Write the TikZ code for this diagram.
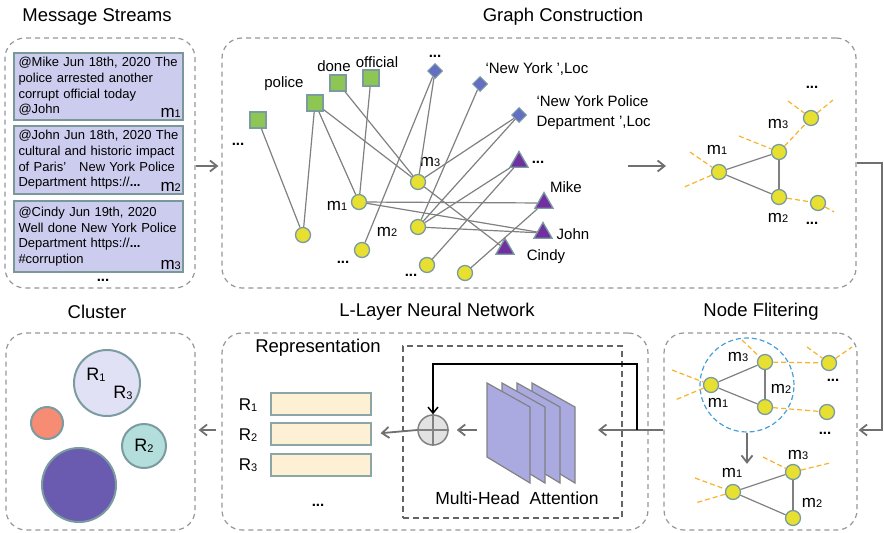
\documentclass[tikz,border=0pt]{standalone}
\usepackage{fontspec}
\setmainfont{Liberation Sans}
\usetikzlibrary{shapes.geometric,arrows.meta}

\definecolor{msgfill}{RGB}{204,204,238}
\definecolor{msgline}{RGB}{122,152,152}
\definecolor{ring}{RGB}{122,155,160}
\definecolor{yel}{RGB}{232,224,48}
\definecolor{wordgreen}{RGB}{141,198,83}
\definecolor{entblue}{RGB}{100,110,195}
\definecolor{userpurple}{RGB}{112,48,160}
\definecolor{edgegray}{RGB}{128,128,128}
\definecolor{cutorange}{RGB}{245,180,40}
\definecolor{framegray}{RGB}{150,150,150}
\definecolor{boxgray}{RGB}{100,100,100}
\definecolor{arrowgray}{RGB}{112,112,112}
\definecolor{selblue}{RGB}{70,160,220}
\definecolor{repfill}{RGB}{253,240,212}
\definecolor{repline}{RGB}{140,165,165}
\definecolor{headfill}{RGB}{170,170,225}
\definecolor{headline}{RGB}{130,130,130}
\definecolor{plusfill}{RGB}{226,226,226}
\definecolor{cluLight}{RGB}{225,225,245}
\definecolor{cluSalmon}{RGB}{245,140,115}
\definecolor{cluTeal}{RGB}{180,222,220}
\definecolor{cluPurple}{RGB}{106,90,176}

\newcommand{\msub}[2]{#1\raisebox{-0.5pt}{\fontsize{11}{11}\selectfont #2}}
\newcommand{\more}{\textbf{...}}

\begin{document}
\begin{tikzpicture}[x=1pt, y=-1pt,
    every node/.style={font=\fontsize{15}{17}\selectfont},
    title/.style={font=\fontsize{18.5}{20}\selectfont},
    mlab/.style={font=\fontsize{17}{17}\selectfont},
    frame/.style={draw=framegray, dash pattern=on 5pt off 4pt, line width=1.2pt, rounded corners=20pt},
    msgbox/.style={rectangle, draw=msgline, fill=msgfill, line width=2pt, text width=160pt, inner xsep=4.5pt,
      inner ysep=3pt, align=left, minimum height=68pt, font=\fontsize{13}{15.6}\selectfont},
    mtag/.style={anchor=base east, font=\fontsize{17}{17}\selectfont, inner sep=0pt},
    msgnode/.style={circle, fill=yel, draw=ring, line width=1.3pt, minimum size=15pt, inner sep=0pt},
    word/.style={rectangle, fill=wordgreen, draw=ring, line width=1.3pt, minimum size=16pt, inner sep=0pt},
    ent/.style={diamond, aspect=1, fill=entblue, draw=ring, line width=1pt, minimum size=15pt, inner sep=0pt},
    user/.style={regular polygon, regular polygon sides=3, fill=userpurple, draw=ring, line width=1.3pt,
      minimum size=21pt, inner sep=0pt},
    link/.style={draw=edgegray, line width=1.2pt},
    cut/.style={draw=cutorange, dash pattern=on 5pt off 3pt, line width=1.2pt},
    flow/.style={draw=arrowgray, line width=1.8pt, -{Straight Barb[length=7pt,width=11pt]}},
    res/.style={draw=black, line width=1.5pt, -{Straight Barb[length=6pt,width=10pt]}},
    repbar/.style={rectangle, fill=repfill, draw=repline, line width=1.2pt, minimum width=100pt,
      minimum height=22pt, inner sep=0pt},
    head/.style={fill=headfill, draw=headline, line width=1.2pt},
    clus/.style={circle, draw=ring, line width=2pt, inner sep=0pt, font=\fontsize{18}{18}\selectfont}]

  \useasboundingbox (0,0) rectangle (884,533);

  % frames and titles
  \node[frame, minimum width=190pt, minimum height=250pt] (frmMsg) at (100,163) {};
  \node[frame, minimum width=634pt, minimum height=250pt] (frmGraph) at (539,163) {};
  \node[frame, minimum width=189pt, minimum height=197pt] (frmClu) at (100.5,431.5) {};
  \node[frame, minimum width=426pt, minimum height=197pt] (frmNet) at (435,431.5) {};
  \node[frame, minimum width=193pt, minimum height=197pt] (frmFil) at (760.5,431.5) {};
  \node[draw=boxgray, dash pattern=on 6pt off 4pt, line width=1.5pt, minimum width=219pt,
    minimum height=172pt] (attbox) at (512.5,432) {};

  \node[title] (tMsg) at (97,17) {Message Streams};
  \node[title] (tGraph) at (563,17) {Graph Construction};
  \node[title] (tClu) at (97,312) {Cluster};
  \node[title] (tNet) at (437,312) {L-Layer Neural Network};
  \node[title] (tFil) at (761,312) {Node Flitering};

  % message streams
  \node[msgbox, minimum height=67pt] (msg1) at (98.5,86.5)
    {@Mike Jun 18th, 2020 The\\police arrested another\\corrupt official today\\@John};
  \node[msgbox] (msg2) at (98.5,160)
    {@John Jun 18th, 2020 The\\cultural and historic impact\\of Paris’\ \ \ New York Police\\Department https://\textbf{...}};
  \node[msgbox, minimum height=71pt] (msg3) at (98.5,236.5)
    {@Cindy Jun 19th, 2020\\Well done New York Police\\Department https://\textbf{...}\\\#corruption};
  \node[mtag] (msg1m) at (181,117) {\msub{m}{1}};
  \node[mtag] (msg2m) at (181,191) {\msub{m}{2}};
  \node[mtag] (msg3m) at (181,269) {\msub{m}{3}};
  \node (msgmore) at (103,280) {\more};

  % heterogeneous graph
  \node[word] (wx) at (258,120) {};
  \node[word] (wpol) at (315,103) {};
  \node[word] (wdone) at (338,83) {};
  \node[word] (woff) at (371,78) {};
  \node[ent] (d1) at (435,71) {};
  \node[ent] (d2) at (480,84) {};
  \node[ent] (d3) at (519,115) {};
  \node[user] (u1) at (519,162) {};
  \node[user] (mike) at (544,203) {};
  \node[user] (john) at (543,233) {};
  \node[user] (cindy) at (505,249) {};
  \node[msgnode] (ca) at (303,235) {};
  \node[msgnode] (m1) at (359,202) {};
  \node[msgnode] (m3) at (418,182) {};
  \node[msgnode] (m2) at (418,227) {};
  \node[msgnode] (cb) at (362,250) {};
  \node[msgnode] (cc) at (427,265) {};
  \node[msgnode] (cd) at (465,273) {};

  \node (lwx) at (238,144) {\more};
  \node (lpol) at (284,84) {police};
  \node (ldone) at (334,66) {done};
  \node (loff) at (377,62) {official};
  \node (ld1) at (435,56) {\more};
  \node[anchor=west] (ld2) at (482,69) {‘New York ’,Loc};
  \node[anchor=west, align=left, font=\fontsize{15}{20}\selectfont] (ld3) at (533,113)
    {‘New York Police\\Department ’,Loc};
  \node (lu1) at (538,162) {\more};
  \node (lmike) at (566,187) {Mike};
  \node (ljohn) at (573,234) {John};
  \node (lcindy) at (546,257) {Cindy};
  \node[mlab] (lm1) at (337,206) {\msub{m}{1}};
  \node[mlab] (lm2) at (387,232) {\msub{m}{2}};
  \node[mlab] (lm3) at (430,162) {\msub{m}{3}};
  \node (lcb) at (343,262) {\more};
  \node (lcc) at (411,275) {\more};

  \draw[link] (wx) -- (ca);
  \draw[link] (wpol) -- (ca);
  \draw[link] (wpol) -- (m1);
  \draw[link] (wpol) -- (m3);
  \draw[link] (wdone) -- (m3);
  \draw[link] (woff) -- (m1);
  \draw[link] (d1) -- (cb);
  \draw[link] (d1) -- (m3);
  \draw[link] (d2) -- (m2);
  \draw[link] (d3) -- (m3);
  \draw[link] (d3) -- (m2);
  \draw[link] (u1) -- (m2);
  \draw[link] (u1) -- (cc);
  \draw[link] (mike) -- (m1);
  \draw[link] (mike) -- (cd);
  \draw[link] (john) -- (m1);
  \draw[link] (john) -- (m2);
  \draw[link] (cindy) -- (m3);

  % message graph
  \coordinate (gArrS) at (628,166);
  \coordinate (gArrE) at (666,166);
  \draw[flow] (gArrS) -- (gArrE);

  \node[msgnode] (gm1) at (719,172) {};
  \node[msgnode] (gm3) at (779,152) {};
  \node[msgnode] (gm2) at (779,197) {};
  \node[msgnode] (gx1) at (811,118) {};
  \node[msgnode] (gx2) at (818,203) {};
  \coordinate (gc1) at (690,152);
  \coordinate (gc2) at (682,188);
  \coordinate (gc3) at (739,136);
  \coordinate (gc4) at (833,100);
  \coordinate (gc5) at (788,101);
  \coordinate (gc6) at (834,212);
  \draw[link] (gm1) -- (gm3);
  \draw[link] (gm1) -- (gm2);
  \draw[link] (gm3) -- (gm2);
  \draw[cut] (gc1) -- (gm1) -- (gc2);
  \draw[cut] (gc3) -- (gm3) -- (gx1) -- (gc4);
  \draw[cut] (gc5) -- (gx1);
  \draw[cut] (gm2) -- (gx2) -- (gc6);
  \node[mlab] (gl1) at (717,150) {\msub{m}{1}};
  \node[mlab] (gl3) at (778,124) {\msub{m}{3}};
  \node[mlab] (gl2) at (778,218) {\msub{m}{2}};
  \node (gd1) at (812,87) {\more};
  \node (gd2) at (812,223) {\more};

  % node filtering
  \node[circle, draw=selblue, dash pattern=on 5pt off 3pt, line width=1.2pt, minimum size=94pt] (sel) at (747,385) {};
  \node[msgnode] (fm1) at (711,385) {};
  \node[msgnode] (fm3) at (765,362) {};
  \node[msgnode] (fm2) at (765,407) {};
  \node[msgnode] (fx1) at (829,363) {};
  \node[msgnode] (fx2) at (827,412) {};
  \coordinate (fc1) at (672,370);
  \coordinate (fc2) at (675,400);
  \coordinate (fc3) at (742,340);
  \coordinate (fc4) at (852,347);
  \coordinate (fc5) at (807,347);
  \draw[link] (fm1) -- (fm3);
  \draw[link] (fm1) -- (fm2);
  \draw[link] (fm3) -- (fm2);
  \draw[cut] (fc1) -- (fm1) -- (fc2);
  \draw[cut] (fc3) -- (fm3) -- (fx1) -- (fc4);
  \draw[cut] (fc5) -- (fx1);
  \draw[cut] (fm2) -- (fx2);
  \node[mlab] (fl3) at (738,357) {\msub{m}{3}};
  \node[mlab] (fl2) at (781,389) {\msub{m}{2}};
  \node[mlab] (fl1) at (718,403) {\msub{m}{1}};
  \node (fd1) at (833,380) {\more};
  \node (fd2) at (825,433) {\more};

  \node[msgnode] (bm1) at (733,492) {};
  \node[msgnode] (bm3) at (793,472) {};
  \node[msgnode] (bm2) at (793,518) {};
  \coordinate (bc1) at (695,478);
  \coordinate (bc2) at (695,503);
  \coordinate (bc3) at (763,457);
  \coordinate (bc4) at (830,463);
  \draw[link] (bm1) -- (bm3);
  \draw[link] (bm1) -- (bm2);
  \draw[link] (bm3) -- (bm2);
  \draw[cut] (bc1) -- (bm1) -- (bc2);
  \draw[cut] (bc3) -- (bm3) -- (bc4);
  \node[mlab] (bl1) at (732,473) {\msub{m}{1}};
  \node[mlab] (bl3) at (798,455) {\msub{m}{3}};
  \node[mlab] (bl2) at (812,503) {\msub{m}{2}};
  \draw[flow] (sel.south) -- (sel.south |- bm3.north);

  % network
  \node[title] (tRep) at (318,348) {Representation};
  \node[repbar] (rep1) at (321,404) {};
  \node[repbar] (rep2) at (321,434) {};
  \node[repbar] (rep3) at (321,465) {};
  \node[mlab] (r1) at (248,405) {\msub{R}{1}};
  \node[mlab] (r2) at (248,435) {\msub{R}{2}};
  \node[mlab] (r3) at (248,465) {\msub{R}{3}};
  \node (repmore) at (318,505) {\more};

  \foreach \i in {3,2,1,0} {
    \draw[head] ({487+15*\i},383) -- ++(43,24) -- ++(0,76) -- ++(-43,-26) -- cycle;
  }
  \node[minimum width=88pt, minimum height=100pt, inner sep=0pt] (att) at (531,433) {};
  \node[font=\fontsize{17.5}{20}\selectfont] (tAtt) at (517,498) {Multi-Head\ \ Attention};

  \node[circle, fill=plusfill, draw=headline, line width=1.5pt, minimum size=30pt, inner sep=0pt] (plus) at (433,430) {};
  \draw[headline, line width=1.5pt] (plus.north) -- (plus.south) (plus.west) -- (plus.east);

  \coordinate (attin) at (598,430);
  \coordinate (tap) at (637,430);
  \draw[flow] (frmFil.west |- plus) -- (attin);
  \draw[res] (tap) -- ++(0,-66) -| (plus.north);
  \draw[flow, shorten <=10pt, shorten >=8pt] (att.west |- plus) -- (plus.east);
  \draw[flow, shorten >=9pt] (plus.west) -- (rep2.east);

  % cluster
  \node[clus, fill=cluLight, minimum size=66pt] (c13) at (107,383) {};
  \node[clus, fill=cluSalmon, minimum size=32pt] (cs) at (47,423) {};
  \node[clus, fill=cluTeal, minimum size=44pt] (c2) at (144,446) {\msub{R}{2}};
  \node[clus, fill=cluPurple, minimum size=74pt] (cp) at (79,485) {};
  \node[font=\fontsize{18}{18}\selectfont] (lr1) at (96,375) {\msub{R}{1}};
  \node[font=\fontsize{18}{18}\selectfont] (lr3) at (123,393) {\msub{R}{3}};

  % links between panels
  \draw[flow, shorten >=3pt] (frmMsg.east |- gArrS) -- (frmGraph.west |- gArrS);
  \draw[flow, shorten >=1pt] (frmGraph.east) -- ++(25,0) |- (frmFil.east |- plus);
  \draw[flow, shorten <=5pt, shorten >=3pt] (frmNet.west |- plus) -- (frmClu.east |- plus);
\end{tikzpicture}
\end{document}
